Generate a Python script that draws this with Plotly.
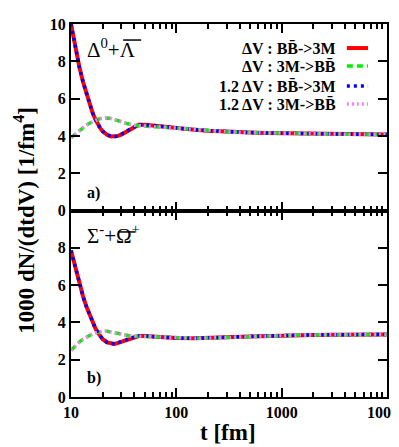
import plotly.graph_objects as go
from plotly.subplots import make_subplots

t = [10, 11, 12, 13, 14, 15, 16, 17, 18, 19, 20, 22, 24, 26, 28, 30, 33, 36, 40, 44,
     50, 60, 75, 100, 150, 200, 300, 500, 700, 1000, 1500, 2000, 3000, 5000, 7000, 10000]

# panel a) Delta0 + anti-Lambda
a_bb_3m = [10.0, 8.7, 7.7, 6.9, 6.25, 5.7, 5.25, 4.9, 4.62, 4.4, 4.25, 4.06, 3.97, 3.96, 4.0, 4.07,
           4.2, 4.35, 4.5, 4.6, 4.6, 4.55, 4.48, 4.42, 4.33, 4.28, 4.22, 4.18, 4.16, 4.15, 4.13,
           4.12, 4.1, 4.09, 4.08, 4.07]
a_3m_bb = [3.9, 4.1, 4.28, 4.45, 4.58, 4.68, 4.77, 4.84, 4.89, 4.93, 4.95, 4.96, 4.93, 4.88, 4.82,
           4.76, 4.68, 4.62, 4.57, 4.55, 4.52, 4.5, 4.46, 4.42, 4.33, 4.28, 4.22, 4.18, 4.16, 4.15,
           4.13, 4.12, 4.1, 4.09, 4.08, 4.07]
a_bb_3m_12 = [10.0, 8.7, 7.7, 6.9, 6.25, 5.7, 5.25, 4.9, 4.62, 4.4, 4.25, 4.06, 3.97, 3.96, 4.0, 4.07,
              4.2, 4.35, 4.5, 4.6, 4.6, 4.55, 4.48, 4.42, 4.33, 4.28, 4.22, 4.18, 4.16, 4.15, 4.13,
              4.12, 4.1, 4.09, 4.08, 4.07]
a_3m_bb_12 = [3.9, 4.1, 4.28, 4.45, 4.58, 4.68, 4.77, 4.84, 4.89, 4.93, 4.95, 4.96, 4.93, 4.88, 4.82,
              4.76, 4.68, 4.62, 4.57, 4.55, 4.52, 4.5, 4.46, 4.42, 4.33, 4.28, 4.22, 4.18, 4.16, 4.15,
              4.13, 4.12, 4.1, 4.09, 4.08, 4.07]

# panel b) Sigma- + anti-Omega+
b_bb_3m = [7.86, 6.9, 6.1, 5.4, 4.85, 4.4, 4.0, 3.7, 3.45, 3.25, 3.1, 2.93, 2.86, 2.85, 2.9, 2.96,
           3.05, 3.15, 3.23, 3.27, 3.27, 3.24, 3.2, 3.16, 3.15, 3.16, 3.2, 3.25, 3.28, 3.3, 3.32,
           3.33, 3.34, 3.34, 3.35, 3.35]
b_3m_bb = [2.5, 2.75, 2.95, 3.1, 3.22, 3.32, 3.39, 3.44, 3.48, 3.51, 3.52, 3.53, 3.5, 3.46, 3.41,
           3.37, 3.32, 3.29, 3.27, 3.26, 3.25, 3.23, 3.2, 3.16, 3.15, 3.16, 3.2, 3.25, 3.28, 3.3,
           3.32, 3.33, 3.34, 3.34, 3.35, 3.35]
b_bb_3m_12 = [7.86, 6.9, 6.1, 5.4, 4.85, 4.4, 4.0, 3.7, 3.45, 3.25, 3.1, 2.93, 2.86, 2.85, 2.9, 2.96,
              3.05, 3.15, 3.23, 3.27, 3.27, 3.24, 3.2, 3.16, 3.15, 3.16, 3.2, 3.25, 3.28, 3.3, 3.32,
              3.33, 3.34, 3.34, 3.35, 3.35]
b_3m_bb_12 = [2.5, 2.75, 2.95, 3.1, 3.22, 3.32, 3.39, 3.44, 3.48, 3.51, 3.52, 3.53, 3.5, 3.46, 3.41,
              3.37, 3.32, 3.29, 3.27, 3.26, 3.25, 3.23, 3.2, 3.16, 3.15, 3.16, 3.2, 3.25, 3.28, 3.3,
              3.32, 3.33, 3.34, 3.34, 3.35, 3.35]

legend_labels = ["ΔV : BB\u0304->3M", "ΔV : 3M->BB\u0304",
                 "1.2 ΔV : BB\u0304->3M", "1.2 ΔV : 3M->BB\u0304"]
x_ticks = [10, 100, 1000, 10000]
x_ticktext = ["10", "100", "1000", "10000"]
x_minor = [20, 30, 40, 50, 60, 70, 80, 90, 200, 300, 400, 500, 600, 700, 800, 900,
           2000, 3000, 4000, 5000, 6000, 7000, 8000, 9000]
y_ticks_a = [0, 2, 4, 6, 8, 10]
y_ticks_b = [0, 2, 4, 6, 8]

styles = [
    dict(color="#FF0000", width=4, dash="solid"),
    dict(color="#00F000", width=3.5, dash="6px,4px"),
    dict(color="#0000FF", width=3.5, dash="3px,4px"),
    dict(color="#EE88EE", width=3.5, dash="2px,3px"),
]

FONT = "Liberation Serif"

fig = make_subplots(rows=2, cols=1, shared_xaxes=True, vertical_spacing=0)

for row, series in ((1, [a_bb_3m, a_3m_bb, a_bb_3m_12, a_3m_bb_12]),
                    (2, [b_bb_3m, b_3m_bb, b_bb_3m_12, b_3m_bb_12])):
    for s, st, name in zip(series, styles, legend_labels):
        fig.add_trace(go.Scatter(x=t, y=s, mode="lines", line=st, name=name,
                                 showlegend=False, hoverinfo="skip"), row=row, col=1)

fig.update_xaxes(type="log", range=[1, 4], showgrid=False, zeroline=False, automargin=False,
                 showline=True, linecolor="black", linewidth=2, mirror="ticks",
                 ticks="inside", ticklen=9, tickwidth=2, tickcolor="black",
                 tickvals=x_ticks, ticktext=[f"<b>{v}</b>" for v in x_ticktext],
                 ticklabeloverflow="allow",
                 minor=dict(ticks="inside", ticklen=5, tickwidth=2, tickcolor="black",
                            tickvals=x_minor, showgrid=False),
                 tickfont=dict(family=FONT, size=16, color="black"))
fig.update_xaxes(showticklabels=False, row=1, col=1)

fig.update_yaxes(range=[0, 10], showgrid=False, zeroline=False, automargin=False,
                 showline=True, linecolor="black", linewidth=2, mirror="ticks",
                 ticks="inside", ticklen=9, tickwidth=2, tickcolor="black",
                 tickfont=dict(family=FONT, size=16, color="black"))
fig.update_yaxes(tickvals=y_ticks_a, ticktext=[f"<b>{v}</b>" for v in y_ticks_a], row=1, col=1)
fig.update_yaxes(tickvals=y_ticks_b, ticktext=[f"<b>{v}</b>" for v in y_ticks_b], row=2, col=1)

# legend (text right-aligned, sample to the right)
leg_y = [0.871, 0.775, 0.668, 0.571]
for lab, st, yy in zip(legend_labels, styles, leg_y):
    fig.add_annotation(xref="x domain", yref="y domain", x=0.842, y=yy, text=f"<b>{lab}</b>",
                       showarrow=False, xanchor="right", yanchor="middle", borderpad=0,
                       font=dict(family=FONT, size=16, color="black"))
    fig.add_shape(type="line", xref="x domain", yref="y domain", x0=0.873, x1=0.94, y0=yy, y1=yy,
                  line=dict(color=st["color"], width=st["width"], dash=st["dash"]))

# panel labels (overbars drawn as short lines)
fig.add_annotation(xref="x domain", yref="y domain", x=0.044, y=0.87,
                   text="Δ<sup>0</sup>+Λ", showarrow=False, xanchor="left", yanchor="middle",
                   font=dict(family=FONT, size=21, color="black"))
fig.add_shape(type="line", xref="x domain", yref="y domain", x0=0.165, x1=0.222, y0=0.914, y1=0.914,
              line=dict(color="black", width=1.5))
fig.add_annotation(xref="x2 domain", yref="y2 domain", x=0.044, y=0.87,
                   text="Σ<sup>-</sup>+Ω<sup>+</sup>", showarrow=False, xanchor="left",
                   yanchor="middle", font=dict(family=FONT, size=21, color="black"))
fig.add_shape(type="line", xref="x2 domain", yref="y2 domain", x0=0.149, x1=0.203, y0=0.885, y1=0.885,
              line=dict(color="black", width=1.5))
fig.add_annotation(xref="x domain", yref="y domain", x=0.044, y=0.094, text="<b>a)</b>",
                   showarrow=False, xanchor="left", yanchor="middle",
                   font=dict(family=FONT, size=16, color="black"))
fig.add_annotation(xref="x2 domain", yref="y2 domain", x=0.044, y=0.10, text="<b>b)</b>",
                   showarrow=False, xanchor="left", yanchor="middle",
                   font=dict(family=FONT, size=16, color="black"))

fig.add_annotation(xref="paper", yref="paper", x=-0.146, y=0.475, textangle=-90,
                   text="<b>1000 dN/(dtdV) [1/fm<sup>4</sup>]</b>", showarrow=False,
                   xanchor="center", yanchor="middle", font=dict(family=FONT, size=23, color="black"))
fig.add_annotation(xref="paper", yref="paper", x=0.497, y=-0.134, text="<b>t [fm]</b>",
                   showarrow=False, xanchor="center", yanchor="bottom",
                   font=dict(family=FONT, size=23, color="black"))

fig.update_layout(width=391, height=439, margin=dict(l=63, r=12, t=16, b=50),
                  paper_bgcolor="white", plot_bgcolor="white", showlegend=False)

fig.write_html("out.html")
